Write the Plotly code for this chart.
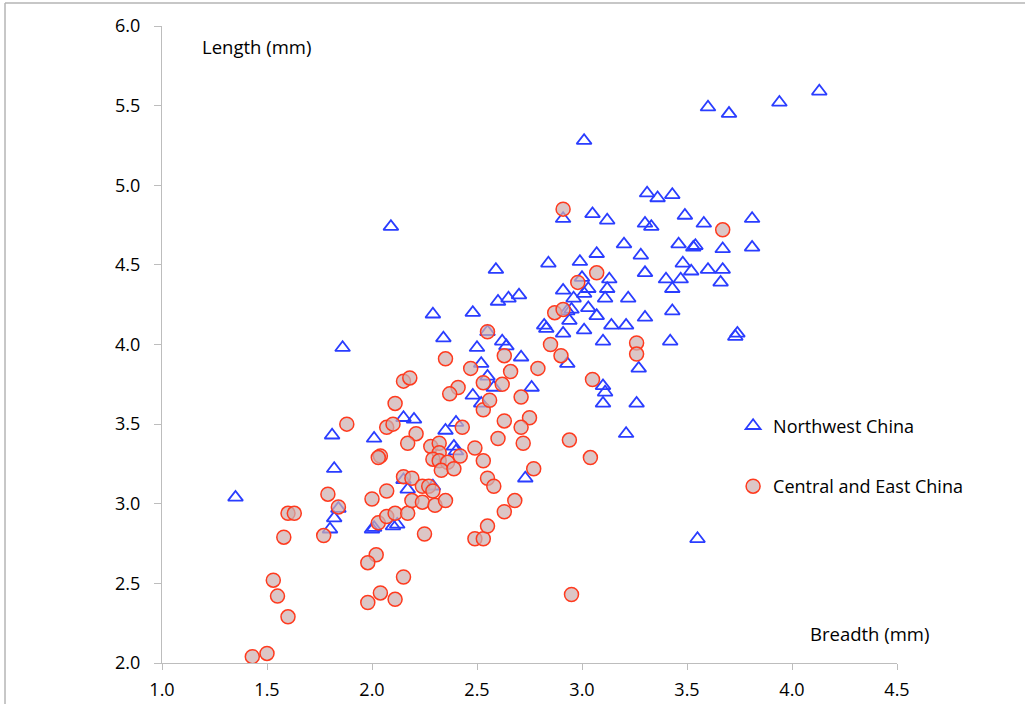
import plotly.graph_objects as go

# Northwest China (triangles): breadth (mm), length (mm)
nw_breadth = [4.13, 3.94, 3.60, 3.70, 3.01, 3.31, 3.36, 3.43, 3.05, 3.12, 3.30, 3.33, 3.49, 3.58,
              3.81, 3.81, 3.20, 3.28, 3.07, 2.99, 3.46, 3.53, 3.54, 3.67, 3.48, 3.52, 3.60, 3.67,
              3.66, 3.30, 3.40, 3.43, 3.47, 3.13, 3.12, 3.11, 3.03, 3.01, 2.96, 2.91, 3.00, 3.22,
              3.03, 3.07, 3.14, 3.21, 3.30, 3.43, 3.01, 2.91, 3.10, 3.42, 3.74, 3.73, 2.94, 2.93,
              2.95, 2.91, 2.60, 2.65, 2.70, 2.48, 2.34, 2.62, 2.64, 2.50, 2.71, 2.52, 2.55, 2.58,
              2.48, 2.52, 2.76, 2.40, 2.35, 2.39, 2.40, 2.73, 2.82, 2.83, 2.93, 3.27, 3.10, 3.11,
              3.10, 3.26, 3.21, 2.55, 2.84, 2.59, 2.29, 2.15, 1.86, 1.81, 1.82, 1.35, 2.01, 2.15,
              2.20, 2.09, 2.17, 2.29, 1.84, 1.82, 1.80, 2.00, 2.01, 2.10, 2.12, 3.55]
nw_length = [5.59, 5.52, 5.49, 5.45, 5.28, 4.95, 4.92, 4.94, 4.82, 4.78, 4.76, 4.74, 4.81, 4.76,
             4.79, 4.61, 4.63, 4.56, 4.57, 4.52, 4.63, 4.61, 4.62, 4.60, 4.51, 4.46, 4.47, 4.47,
             4.39, 4.45, 4.41, 4.35, 4.41, 4.41, 4.35, 4.29, 4.35, 4.32, 4.29, 4.34, 4.42, 4.29,
             4.23, 4.18, 4.12, 4.12, 4.17, 4.21, 4.09, 4.07, 4.02, 4.02, 4.07, 4.05, 4.15, 4.21,
             4.22, 4.79, 4.27, 4.29, 4.31, 4.20, 4.04, 4.02, 3.99, 3.98, 3.92, 3.88, 3.80, 3.73,
             3.68, 3.63, 3.73, 3.51, 3.46, 3.36, 3.33, 3.16, 4.12, 4.10, 3.88, 3.85, 3.74, 3.70,
             3.63, 3.63, 3.44, 4.08, 4.51, 4.47, 4.19, 3.15, 3.98, 3.43, 3.22, 3.04, 3.41, 3.54,
             3.53, 4.74, 3.09, 3.11, 2.97, 2.91, 2.84, 2.84, 2.85, 2.86, 2.87, 2.78]

# Central and East China (circles): breadth (mm), length (mm)
ce_breadth = [1.43, 1.50, 1.60, 1.55, 1.53, 1.98, 2.04, 2.11, 2.15, 2.02, 1.98, 2.25, 1.58, 1.60,
              1.63, 1.77, 1.79, 1.84, 1.88, 2.00, 2.07, 2.03, 2.07, 2.11, 2.17, 2.19, 2.24, 2.30,
              2.35, 2.15, 2.19, 2.24, 2.27, 2.29, 2.04, 2.03, 2.07, 2.10, 2.11, 2.21, 2.17, 2.28,
              2.32, 2.32, 2.29, 2.32, 2.36, 2.33, 2.39, 2.42, 2.49, 2.53, 2.55, 2.43, 2.53, 2.49,
              2.53, 2.55, 2.35, 2.47, 2.55, 2.63, 2.66, 2.79, 2.53, 2.62, 2.41, 2.37, 2.56, 2.71,
              2.63, 2.75, 2.71, 2.60, 2.72, 2.94, 3.04, 2.58, 2.77, 2.85, 2.90, 2.87, 2.91, 3.05,
              3.26, 3.26, 2.91, 3.07, 2.98, 3.67, 2.95, 2.15, 2.18, 2.63, 2.68]
ce_length = [2.04, 2.06, 2.29, 2.42, 2.52, 2.38, 2.44, 2.40, 2.54, 2.68, 2.63, 2.81, 2.79, 2.94,
             2.94, 2.80, 3.06, 2.98, 3.50, 3.03, 3.08, 2.88, 2.92, 2.94, 2.94, 3.02, 3.01, 2.99,
             3.02, 3.17, 3.16, 3.11, 3.11, 3.08, 3.30, 3.29, 3.48, 3.50, 3.63, 3.44, 3.38, 3.36,
             3.38, 3.32, 3.28, 3.27, 3.26, 3.21, 3.22, 3.30, 3.35, 3.27, 3.16, 3.48, 3.59, 2.78,
             2.78, 2.86, 3.91, 3.85, 4.08, 3.93, 3.83, 3.85, 3.76, 3.75, 3.73, 3.69, 3.65, 3.67,
             3.52, 3.54, 3.48, 3.41, 3.38, 3.40, 3.29, 3.11, 3.22, 4.00, 3.93, 4.20, 4.22, 3.78,
             4.01, 3.94, 4.85, 4.45, 4.39, 4.72, 2.43, 3.77, 3.79, 2.95, 3.02]

x_ticks = [1.0, 1.5, 2.0, 2.5, 3.0, 3.5, 4.0, 4.5]
y_ticks = [2.0, 2.5, 3.0, 3.5, 4.0, 4.5, 5.0, 5.5, 6.0]
x_title = "Breadth (mm)"
y_title = "Length (mm)"

FONT = "Open Sans"
AXIS_GRAY = "#bdbdbd"

fig = go.Figure()
fig.add_trace(go.Scatter(
    x=nw_breadth, y=nw_length, mode="markers", name="Northwest China",
    legendgroup="nw",
    marker=dict(symbol="triangle-up-open", size=13, color="#2a3dff",
                line=dict(width=1.8, color="#2a3dff")),
))
fig.add_trace(go.Scatter(
    x=ce_breadth, y=ce_length, mode="markers", name="Central and East China",
    legendgroup="ce",
    marker=dict(symbol="circle", size=14, color="rgba(206,176,176,0.72)",
                line=dict(width=1.5, color="#ff3a1e")),
))

fig.update_layout(
    width=1025, height=704,
    margin=dict(l=162, r=128, t=26, b=41, autoexpand=False),
    paper_bgcolor="white", plot_bgcolor="white",
    font=dict(family=FONT, size=18, color="black"),
    showlegend=True,
    legend=dict(x=0.777, y=0.401, xanchor="left", yanchor="top",
                traceorder="grouped", tracegroupgap=34,
                font=dict(family=FONT, size=18, color="black"),
                bgcolor="rgba(0,0,0,0)", itemwidth=30),
    xaxis=dict(range=[1.0, 4.5], tickvals=x_ticks,
               ticktext=[f"{v:.1f}" for v in x_ticks],
               showgrid=False, zeroline=False, showline=True, automargin=False,
               linecolor=AXIS_GRAY, linewidth=1, ticks="outside", ticklen=6,
               tickcolor=AXIS_GRAY, tickfont=dict(size=18), ticklabelstandoff=4),
    yaxis=dict(range=[2.0, 6.0], tickvals=y_ticks,
               ticktext=[f"{v:.1f}" for v in y_ticks],
               showgrid=False, zeroline=False, showline=True, automargin=False,
               linecolor=AXIS_GRAY, linewidth=1, ticks="outside", ticklen=7,
               tickcolor=AXIS_GRAY, tickfont=dict(size=18), ticklabelstandoff=10),
    annotations=[
        dict(text=y_title, xref="paper", yref="paper", x=0.052, y=0.968,
             xanchor="left", yanchor="middle", showarrow=False,
             font=dict(family=FONT, size=18.5, color="black")),
        dict(text=x_title, xref="paper", yref="paper", x=0.879, y=0.047,
             xanchor="left", yanchor="middle", showarrow=False,
             font=dict(family=FONT, size=18.5, color="black")),
    ],
    shapes=[
        dict(type="line", xref="paper", yref="paper", x0=-0.2136, x1=1.2, y0=1.036, y1=1.036,
             line=dict(color="#b5b5b5", width=1.5)),
        dict(type="line", xref="paper", yref="paper", x0=-0.2136, x1=-0.2136, y0=-0.1, y1=1.036,
             line=dict(color="#b5b5b5", width=1.5)),
    ],
)

fig.write_html("out.html")
